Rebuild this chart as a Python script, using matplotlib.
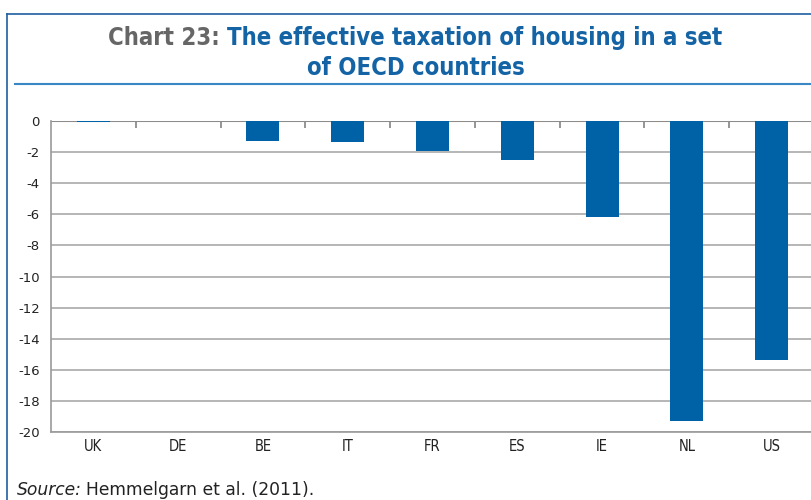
import matplotlib
matplotlib.use('Agg')
import matplotlib.pyplot as plt
import numpy as np

# Data
countries = ['UK', 'DE', 'BE', 'IT', 'FR', 'ES', 'IE', 'NL', 'US']
effective_tax = [-0.05, 0.0, -1.3, -1.35, -1.9, -2.5, -6.2, -19.3, -15.4]
y_ticks = list(range(0, -21, -2))

bar_color = '#0062a6'
title_blue = '#1464a5'
title_gray = '#666666'

fig = plt.figure(figsize=(8.12, 5.0), dpi=100)
W, H = 812, 500

# outer frame (left + top) and title underline
fig.add_artist(plt.Line2D([7 / W, 7 / W], [0, 1 - 14 / H], color='#1f5fa0', lw=1.2))
fig.add_artist(plt.Line2D([7 / W, 1], [1 - 14 / H, 1 - 14 / H], color='#1f5fa0', lw=1.2))
fig.add_artist(plt.Line2D([15 / W, 1], [1 - 84 / H, 1 - 84 / H], color='#3a87c6', lw=1.5))

ax = fig.add_axes([51 / W, 1 - 432 / H, 763 / W, 311 / H])
x = np.arange(len(countries))
ax.bar(x, effective_tax, width=0.39, color=bar_color, zorder=3)

ax.set_xlim(-0.5, len(countries) - 0.5)
ax.set_ylim(-20, 0)
ax.set_yticks(y_ticks)
ax.set_yticklabels([str(v) for v in y_ticks], fontsize=9.5, color='#222222')
ax.yaxis.grid(True, color='#b0b0b0', lw=1.3, zorder=0)
ax.set_xticks(x)
ax.set_xticklabels(countries, fontsize=10.5, fontstretch='condensed', color='#222222')
ax.tick_params(axis='x', length=0, pad=5)
ax.tick_params(axis='y', length=0, pad=8)

# zero line with category separators
ax.axhline(0, color='#8c8c8c', lw=1.5, zorder=2)
ax.vlines(x[:-1] + 0.5, -0.45, 0, color='#8c8c8c', lw=1.3, zorder=2)

for s in ['top', 'right']:
    ax.spines[s].set_visible(False)
for s in ['left', 'bottom']:
    ax.spines[s].set_color('#9a9a9a')
    ax.spines[s].set_linewidth(1.2)

# title: gray label + blue text, centred
fig.canvas.draw()
r = fig.canvas.get_renderer()
fs = 15
tkw = dict(fontweight='bold', fontstretch='condensed', va='center')
t1 = fig.text(0, 1 - 38 / H, 'Chart 23: ', color=title_gray, fontsize=fs, **tkw)
t2 = fig.text(0, 1 - 38 / H, 'The effective taxation of housing in a set',
              color=title_blue, fontsize=fs, **tkw)
w1 = t1.get_window_extent(r).width
w2 = t2.get_window_extent(r).width
scale = 618 / (w1 + w2)
t1.set_fontsize(fs * scale)
t2.set_fontsize(fs * scale)
w1 = t1.get_window_extent(r).width
w2 = t2.get_window_extent(r).width
x0 = 415 - (w1 + w2) / 2
t1.set_x(x0 / W)
t2.set_x((x0 + w1) / W)
fig.text(416 / W, 1 - 68 / H, 'of OECD countries', color=title_blue,
         fontsize=fs * scale, ha='center', **tkw)

# source line
s1 = fig.text(17 / W, 1 - 490 / H, 'Source:', fontsize=12.3, style='italic',
              va='center', color='#222222')
ws = s1.get_window_extent(r).width
fig.text((17 + ws + 4) / W, 1 - 490 / H, 'Hemmelgarn et al. (2011).', fontsize=12.3,
         va='center', color='#222222')

fig.savefig('out.png', dpi=100)
